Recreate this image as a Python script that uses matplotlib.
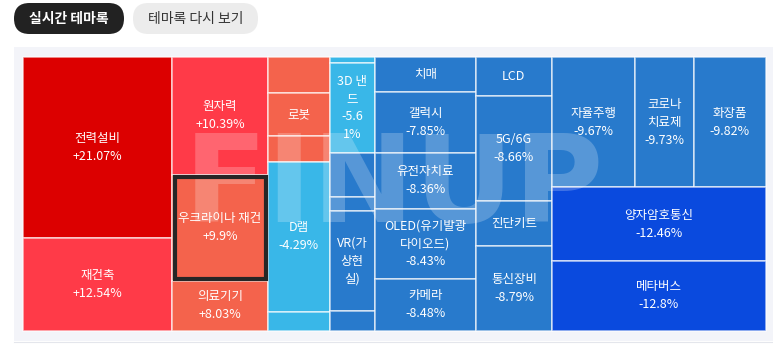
import matplotlib.pyplot as plt
from matplotlib.patches import Rectangle, FancyBboxPatch

plt.rcParams['font.family'] = ['Noto Sans CJK KR', 'DejaVu Sans']

# 테마 트리맵 데이터 (열 / 행 단위로 배치)
names = [
    "전력설비", "재건축",
    "원자력", "우크라이나 재건", "의료기기",
    "", "로봇", "", "D램", "",
    "", "3D 낸\n드", "", "", "VR(가\n상현\n실)", "",
    "치매", "갤럭시", "유전자치료", "OLED(유기발광\n다이오드)", "카메라",
    "LCD", "5G/6G", "진단키트", "통신장비",
    "자율주행", "코로나\n치료제", "화장품", "양자암호통신", "메타버스",
]
changes = [
    21.07, 12.54,
    10.39, 9.9, 8.03,
    6.8, 7.5, 6.2, -4.29, -4.0,
    -5.0, -5.61, -8.0, -8.1, -7.3, -8.2,
    -7.6, -7.85, -8.36, -8.43, -8.48,
    -8.5, -8.66, -8.7, -8.79,
    -9.67, -9.73, -9.82, -12.46, -12.8,
]
weights = [
    270, 139,
    113, 102, 48,
    22, 27, 16, 92, 12,
    2.7, 40.5, 19.8, 6.3, 45, 9,
    36, 61, 57, 71, 53,
    30, 80, 34, 65,
    108, 77, 94, 158, 150,
]
cols = [0, 0, 1, 1, 1, 2, 2, 2, 2, 2, 3, 3, 3, 3, 3, 3,
        4, 4, 4, 4, 4, 5, 5, 5, 5, 6, 6, 6, 6, 6]
rows = [0, 1, 0, 1, 2, 0, 1, 2, 3, 4, 0, 1, 2, 3, 4, 5,
        0, 1, 2, 3, 4, 0, 1, 2, 3, 0, 0, 0, 1, 2]
# 0 = 라벨 없음, 1 = 테마명만, 2 = 테마명 + 등락률
modes = [2, 2, 2, 2, 2, 0, 1, 0, 2, 0, 0, 2, 0, 0, 1, 0,
         1, 2, 2, 2, 2, 1, 2, 1, 2, 2, 2, 2, 2, 2]
selected = "우크라이나 재건"


def tile_color(v):
    if v >= 20:
        return "#dc0000"
    if v >= 10:
        return "#ff3a48"
    if v > 0:
        return "#f4634c"
    if v > -7:
        return "#39b7e8"
    if v > -12:
        return "#287acc"
    return "#0a4ade"


def value_text(v, narrow):
    s = f"{v:+g}%"
    if narrow:
        s = "\n".join(s[i:i + 4] for i in range(0, len(s), 4))
    return s


fig = plt.figure(figsize=(7.73, 3.46), dpi=100)
ax = fig.add_axes([0, 0, 1, 1])
ax.set_xlim(0, 773)
ax.set_ylim(346, 0)
ax.axis("off")

# 상단 탭 버튼
ax.add_patch(FancyBboxPatch((14, 3), 110, 31, boxstyle="round,pad=0,rounding_size=15.5",
                            facecolor="#222222", edgecolor="none"))
ax.text(69, 19, "실시간 테마록", color="white", fontsize=10, weight="bold",
        ha="center", va="center")
ax.add_patch(FancyBboxPatch((133, 3), 125, 31, boxstyle="round,pad=0,rounding_size=15.5",
                            facecolor="#ececec", edgecolor="none"))
ax.text(196, 19, "테마록 다시 보기", color="#333333", fontsize=10,
        ha="center", va="center")

# 트리맵 배경 패널
ax.add_patch(Rectangle((14, 47), 760, 294, facecolor="#f3f4f9", edgecolor="none"))
ax.plot([14, 773], [341.5, 341.5], color="#e4e6ec", lw=0.8)

X0, Y0, W, H = 23, 57, 743, 274
LINE_H = 18
total = sum(weights)
n = len(names)

x = X0
for c in sorted(set(cols)):
    idx = [i for i in range(n) if cols[i] == c]
    csum = sum(weights[i] for i in idx)
    cw = W * csum / total
    y = Y0
    for r in sorted(set(rows[i] for i in idx)):
        ridx = [i for i in idx if rows[i] == r]
        rsum = sum(weights[i] for i in ridx)
        rh = H * rsum / csum
        xx = x
        for i in ridx:
            w = cw * weights[i] / rsum
            ax.add_patch(Rectangle((xx, y), w, rh, facecolor=tile_color(changes[i]),
                                   edgecolor=(1, 1, 1, 0.7), lw=1.1))
            if names[i] == selected:
                ax.add_patch(Rectangle((xx + 3, y + 2), w - 5, rh - 4, fill=False,
                                       edgecolor="#262626", lw=3, zorder=4))
            lines = []
            if modes[i] >= 1:
                lines += names[i].split("\n")
            if modes[i] == 2:
                lines += value_text(changes[i], w < 50).split("\n")
            cy = y + rh / 2 - (len(lines) - 1) * LINE_H / 2
            for k, ln in enumerate(lines):
                ax.text(xx + w / 2, cy + k * LINE_H, ln, color="white", fontsize=9,
                        ha="center", va="center", zorder=5)
            xx += w
        y += rh
    x += cw

# 워터마크 로고
wm = ax.text(394, 188, "FINUP", fontsize=88, family="DejaVu Sans", weight="bold",
             color="white", alpha=0.22, ha="center", va="center", zorder=3)
wm.set_clip_path(Rectangle((X0, Y0), W, H, transform=ax.transData))

fig.savefig("out.png", dpi=100, facecolor="white")
